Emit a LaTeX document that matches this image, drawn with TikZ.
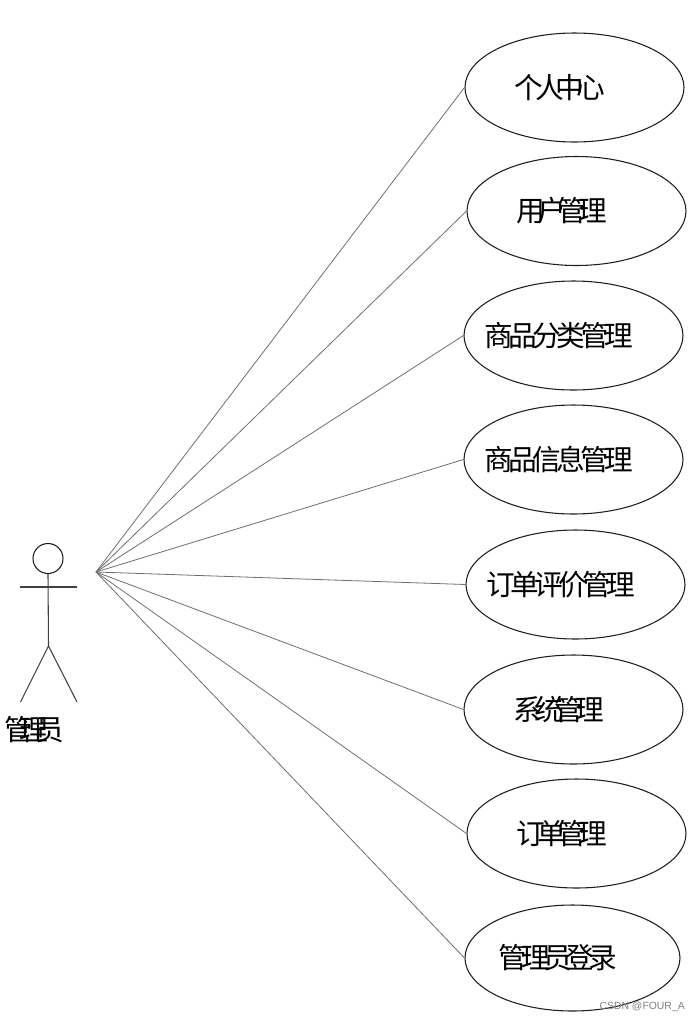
\documentclass[tikz,border=0pt]{standalone}
\usepackage{fontspec}
\usetikzlibrary{shapes.geometric}
\newfontfamily\ucfont[LetterSpace=-16]{Noto Sans CJK SC}
\newfontfamily\ucfontfive[LetterSpace=-22]{Noto Sans CJK SC}
\newfontfamily\ucfontfour[LetterSpace=-28]{Noto Sans CJK SC}
\newfontfamily\actorfont[LetterSpace=-46]{Noto Sans CJK SC}
\setsansfont{Liberation Sans}
\definecolor{ucink}{HTML}{1E1E1E}
\definecolor{ucline}{HTML}{6E6E6E}

\begin{document}
\begin{tikzpicture}[
    x=0.75pt, y=-0.75pt,
    usecase/.style={draw=ucink, ellipse, line width=0.8pt, inner ysep=0pt, inner xsep=-50pt,
                    minimum width=164.25pt, minimum height=81.75pt,
                    font=\ucfont\fontsize{21.5pt}{24pt}\selectfont, text=black,
                    execute at end node=\hspace{22pt}},
    usefour/.style={usecase, font=\ucfontfour\fontsize{21.5pt}{24pt}\selectfont},
    assoc/.style={draw=ucline, line width=0.6pt},
    limb/.style={draw=ucink!85, line width=0.8pt},
]
\useasboundingbox (0,0) rectangle (700,1022);

% use cases
\node[usefour] (center) at (574.5,87.5)  {个人中心};
\node[usefour] (users)  at (576.5,211)   {用户管理};
\node[usecase] (cats)   at (573.5,335.5) {商品分类管理};
\node[usecase] (goods)  at (573.5,459.5) {商品信息管理};
\node[usecase] (review) at (575.5,584.5) {订单评价管理};
\node[usefour] (system) at (573.5,709.5) {系统管理};
\node[usefour] (orders) at (576.5,833.5) {订单管理};
\node[usecase, minimum width=161.25pt, minimum height=79.5pt,
      font=\ucfontfive\fontsize{21.5pt}{24pt}\selectfont] (login) at (572.5,958) {管理员登录};

% actor
\node[draw=ucink, circle, line width=0.8pt, inner sep=0pt, minimum size=22.5pt] (head) at (48,558.5) {};
\coordinate (armL) at (20,587);
\coordinate (armR) at (77,587);
\coordinate (hip) at (48.5,646);
\coordinate (footL) at (20.5,702);
\coordinate (footR) at (77,702);
\draw[limb] (head.south) -- (hip);
\draw[limb] (armL) -- (armR);
\draw[limb] (footL) -- (hip) -- (footR);
\node[font=\actorfont\fontsize{21.5pt}{24pt}\selectfont, text=black, inner sep=0pt] (actor) at (34,730) {管理员};

% associations
\coordinate (hub) at (96,572);
\draw[assoc] (hub) -- (center.west);
\draw[assoc] (hub) -- (users.west);
\draw[assoc] (hub) -- (cats.west);
\draw[assoc] (hub) -- (goods.west);
\draw[assoc] (hub) -- (review.west);
\draw[assoc] (hub) -- (system.west);
\draw[assoc] (hub) -- (orders.west);
\draw[assoc] (hub) -- (login.west);

% watermark
\node[font=\sffamily\fontsize{7.8pt}{9pt}\selectfont, text=black!50, anchor=east, inner sep=0pt] (mark) at (685,1007) {CSDN @FOUR\_A};

\end{tikzpicture}
\end{document}
